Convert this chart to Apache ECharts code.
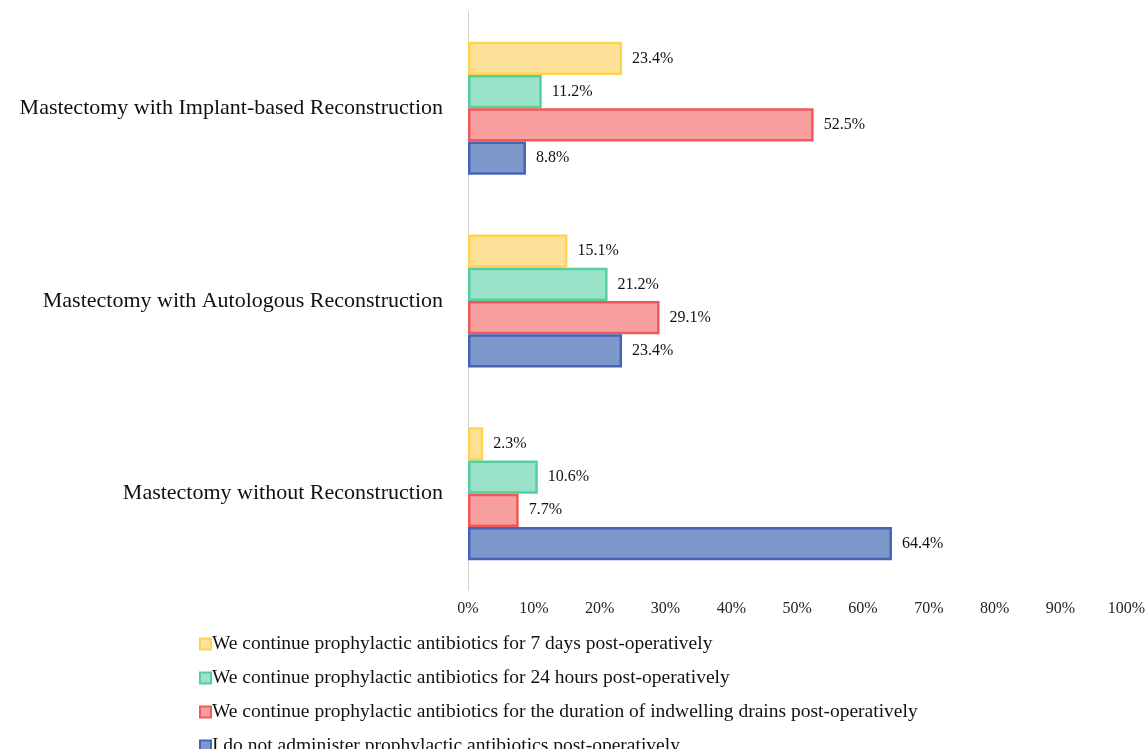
<!DOCTYPE html>
<html>
<head>
<meta charset="utf-8">
<script src="https://cdn.jsdelivr.net/npm/echarts@6/dist/echarts.min.js"></script>
<style>
  html, body { margin: 0; padding: 0; background: #fff; }
  #chart { width: 1148px; height: 749px; }
</style>
</head>
<body>
<div id="chart"></div>
<script>
const categories = [
  'Mastectomy with Implant-based Reconstruction',
  'Mastectomy with Autologous Reconstruction',
  'Mastectomy without Reconstruction'
]
const seriesNames = [
  'We continue prophylactic antibiotics for 7 days post-operatively',
  'We continue prophylactic antibiotics for 24 hours post-operatively',
  'We continue prophylactic antibiotics for the duration of indwelling drains post-operatively',
  'I do not administer prophylactic antibiotics post-operatively'
]
const sevenDays = [23.4, 15.1, 2.3]
const twentyFourHours = [11.2, 21.2, 10.6]
const drainDuration = [52.5, 29.1, 7.7]
const noAntibiotics = [8.8, 23.4, 64.4]
const xTicks = [0, 10, 20, 30, 40, 50, 60, 70, 80, 90, 100]

const fills = ['#FFE29A', '#9AE3C8', '#F79E9E', '#7F98CC']
const strokes = ['#FFD451', '#55CFA0', '#EE5A5A', '#4464B4']
const values = [sevenDays, twentyFourHours, drainDuration, noAntibiotics]

const font = '"Liberation Serif", "DejaVu Serif", serif'

const chart = echarts.init(document.getElementById('chart'))

chart.setOption({
  animation: false,
  textStyle: { fontFamily: font },
  grid: { left: 468, right: 18, top: 12, bottom: 159, containLabel: false },
  legend: {
    data: seriesNames,
    orient: 'vertical',
    left: 194,
    top: 629,
    height: 140,
    icon: 'rect',
    itemWidth: 11,
    itemHeight: 11,
    itemGap: 14,
    textStyle: { fontFamily: font, fontSize: 19.5, lineHeight: 19, color: '#111', padding: [0, 0, 0, -4] }
  },
  xAxis: {
    type: 'value',
    min: xTicks[0],
    max: xTicks[xTicks.length - 1],
    interval: 10,
    splitLine: { show: false },
    axisLine: { show: false },
    axisTick: { show: false },
    axisLabel: {
      formatter: v => v + '%',
      fontFamily: font,
      fontSize: 16,
      color: '#222',
      margin: 11
    }
  },
  yAxis: {
    type: 'category',
    data: categories,
    inverse: true,
    axisLine: { show: true, lineStyle: { color: '#d0d0d0', width: 1 } },
    axisTick: { show: false },
    axisLabel: { fontFamily: font, fontSize: 22, color: '#111', margin: 25 }
  },
  series: seriesNames.map((name, i) => ({
    name,
    type: 'bar',
    data: values[i],
    barGap: '0%',
    barCategoryGap: '31%',
    itemStyle: { color: fills[i], borderColor: strokes[i], borderWidth: 2.5 },
    label: {
      show: true,
      position: 'right',
      distance: 10,
      formatter: p => p.value.toFixed(1) + '%',
      fontFamily: font,
      fontSize: 16,
      color: '#111'
    }
  }))
})
</script>
</body>
</html>
